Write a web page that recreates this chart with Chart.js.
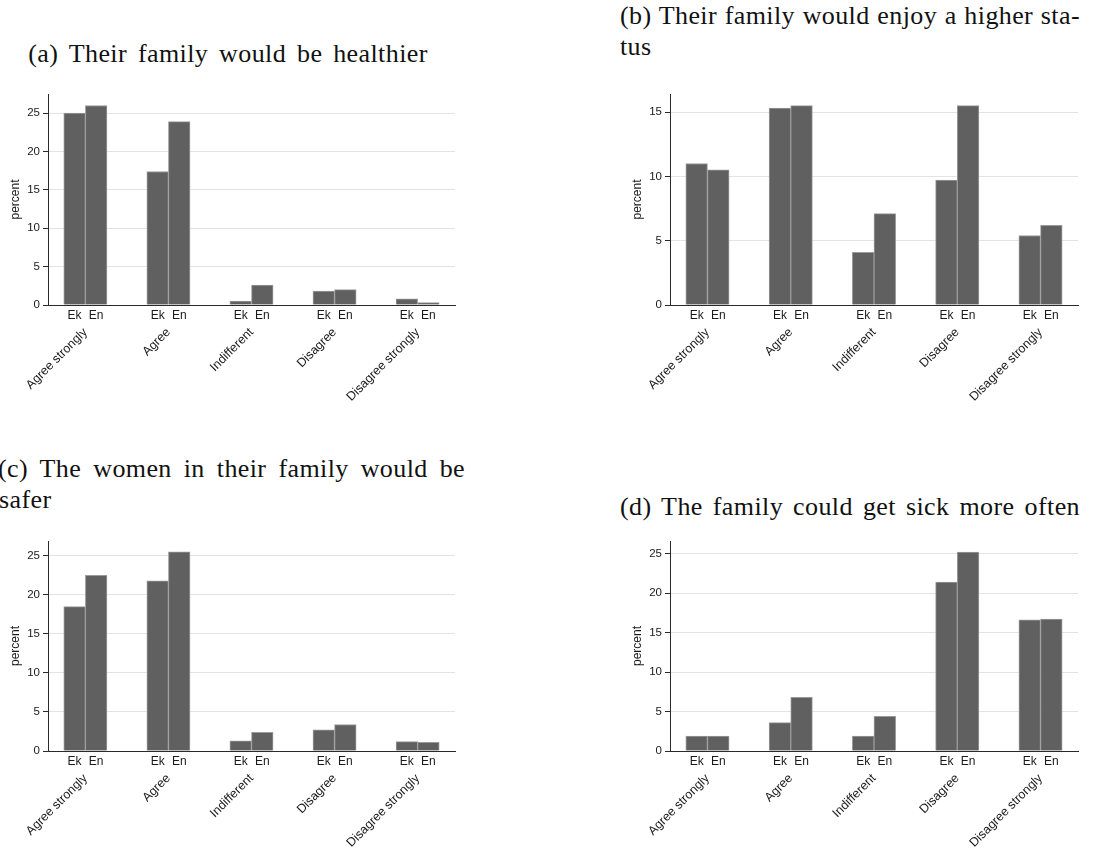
<!DOCTYPE html>
<html>
<head>
<meta charset="utf-8">
<script src="https://cdn.jsdelivr.net/npm/chart.js@4.4.1/dist/chart.umd.min.js"></script>
<style>
  html, body { margin: 0; padding: 0; background: #fff; }
  body { width: 1093px; height: 853px; position: relative; overflow: hidden; }
  canvas { position: absolute; }
  .cap {
    position: absolute;
    font-family: 'Liberation Serif', 'DejaVu Serif', serif;
    font-size: 26px;
    line-height: 31px;
    color: #111;
    letter-spacing: 0.4px;
    white-space: nowrap;
  }
  .just { white-space: normal; text-align: justify; text-align-last: justify; }
</style>
</head>
<body>
<div class="cap" style="left:-2px; top:38px; width:460px; text-align:center; word-spacing:4px;">(a) Their family would be healthier</div>
<div class="cap just" style="left:620px; top:0px; width:460px;">(b) Their family would enjoy a higher sta-</div>
<div class="cap" style="left:620px; top:31px;">tus</div>
<div class="cap just" style="left:-2px; top:453px; width:467px;">(c) The women in their family would be</div>
<div class="cap" style="left:-1px; top:484px;">safer</div>
<div class="cap just" style="left:620px; top:491px; width:460px;">(d) The family could get sick more often</div>

<canvas id="panelA" width="480" height="340" style="left:0px; top:80px;"></canvas>
<canvas id="panelB" width="493" height="340" style="left:600px; top:80px;"></canvas>
<canvas id="panelC" width="480" height="326" style="left:0px; top:527px;"></canvas>
<canvas id="panelD" width="493" height="326" style="left:600px; top:527px;"></canvas>

<script>
// Response categories and the two survey groups
const CATEGORIES = ['Agree strongly', 'Agree', 'Indifferent', 'Disagree', 'Disagree strongly'];
const SERIES = ['Ek', 'En'];

// Percent of respondents, per statement
const healthierEk = [25.0, 17.4, 0.5, 1.8, 0.8];
const healthierEn = [26.0, 23.9, 2.6, 2.0, 0.3];

const statusEk = [11.0, 15.3, 4.1, 9.7, 5.4];
const statusEn = [10.5, 15.5, 7.1, 15.5, 6.2];

const saferEk = [18.5, 21.8, 1.3, 2.7, 1.2];
const saferEn = [22.5, 25.5, 2.4, 3.4, 1.1];

const sickEk = [1.9, 3.6, 1.9, 21.4, 16.6];
const sickEn = [1.9, 6.8, 4.4, 25.2, 16.7];

// Value-axis ticks
const TICKS_TO_25 = [0, 5, 10, 15, 20, 25];
const TICKS_TO_15 = [0, 5, 10, 15];

const BAR_FILL = '#606060';
const BAR_EDGE = '#9a9a9a';
const AXIS_COLOR = '#2a2a2a';
const GRID_COLOR = '#e3e3e3';
const TEXT_COLOR = '#1a1a1a';

Chart.defaults.font.family = "'Liberation Sans', Arial, sans-serif";
Chart.defaults.color = TEXT_COLOR;

function makePanel(id, ek, en, yMax, yTicks, padLeft, padRight, labelBand) {
  const points = vals => CATEGORIES.map((c, i) => ({ x: i, y: vals[i] }));
  const barStyle = { backgroundColor: BAR_FILL, borderColor: BAR_EDGE, borderWidth: 1 };
  return new Chart(document.getElementById(id), {
    type: 'bar',
    data: {
      datasets: [
        Object.assign({ label: SERIES[0], data: points(ek) }, barStyle),
        Object.assign({ label: SERIES[1], data: points(en) }, barStyle)
      ]
    },
    options: {
      responsive: false,
      animation: false,
      devicePixelRatio: 1,
      layout: { padding: { left: padLeft, right: padRight, top: 14, bottom: 0 } },
      plugins: { legend: { display: false }, tooltip: { enabled: false } },
      datasets: { bar: { barThickness: 'flex', categoryPercentage: 0.52, barPercentage: 1.0, grouped: true } },
      scales: {
        x: {
          type: 'linear', position: 'bottom', weight: 0,
          min: -0.45, max: 4.45, offset: false, bounds: 'data',
          grid: { display: false, drawTicks: false },
          border: { display: true, color: AXIS_COLOR, width: 1 },
          afterBuildTicks: ax => {
            ax.ticks = CATEGORIES.flatMap((c, i) => [{ value: i - 0.13 }, { value: i + 0.13 }]);
          },
          ticks: {
            autoSkip: false, minRotation: 0, maxRotation: 0, padding: 3,
            font: { size: 12 }, color: TEXT_COLOR,
            callback: (v, i) => SERIES[i % 2]
          },
          afterFit: ax => { ax.height = 18; }
        },
        xCat: {
          type: 'linear', position: 'bottom', weight: 1,
          min: -0.45, max: 4.45, offset: false, bounds: 'data',
          grid: { display: false, drawTicks: false },
          border: { display: false },
          afterBuildTicks: ax => {
            ax.ticks = CATEGORIES.map((c, i) => ({ value: i }));
          },
          ticks: {
            autoSkip: false, minRotation: 45, maxRotation: 45, padding: 2,
            font: { size: 12.5 }, color: TEXT_COLOR,
            callback: (v, i) => CATEGORIES[i]
          },
          afterFit: ax => { ax.height = labelBand; }
        },
        y: {
          position: 'left', min: 0, max: yMax,
          afterBuildTicks: ax => { ax.ticks = yTicks.map(v => ({ value: v })); },
          grid: { color: GRID_COLOR, lineWidth: 1, drawTicks: true, tickLength: 5, tickColor: AXIS_COLOR },
          border: { display: true, color: AXIS_COLOR, width: 1 },
          ticks: { padding: 3, font: { size: 11.5 }, color: TEXT_COLOR },
          title: { display: true, text: 'percent', font: { size: 12 }, color: TEXT_COLOR, padding: { top: 8, bottom: 0 } },
          afterFit: ax => { ax.width = 48; }
        }
      }
    }
  });
}

makePanel('panelA', healthierEk, healthierEn, 27.5, TICKS_TO_25, 0, 25, 97);
makePanel('panelB', statusEk, statusEn, 16.4, TICKS_TO_15, 22, 15, 97);
makePanel('panelC', saferEk, saferEn, 26.9, TICKS_TO_25, 0, 25, 84);
makePanel('panelD', sickEk, sickEn, 26.6, TICKS_TO_25, 22, 15, 84);
</script>
</body>
</html>
